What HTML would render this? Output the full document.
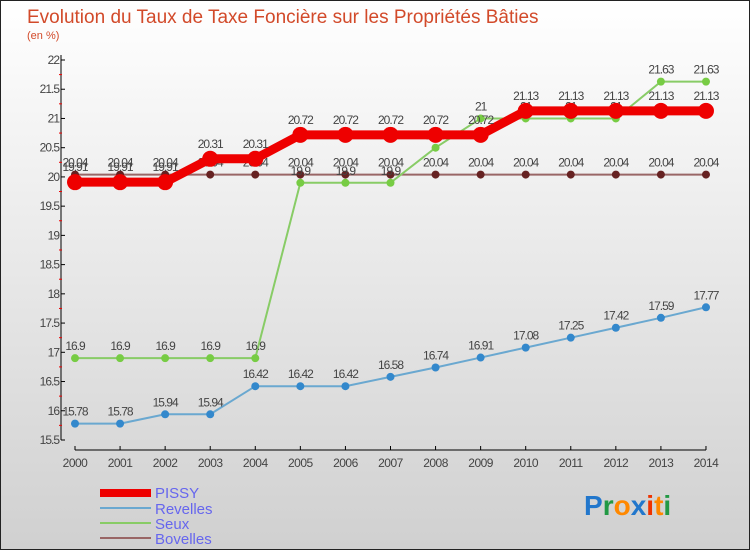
<!DOCTYPE html>
<html><head><meta charset="utf-8"><style>
body{margin:0;width:750px;height:550px;overflow:hidden}
svg{display:block;font-family:"Liberation Sans",sans-serif}
</style></head><body>
<svg id="c" width="750" height="550">
<defs><linearGradient id="bg" x1="0" y1="0" x2="0" y2="1"><stop offset="0" stop-color="#ffffff"/><stop offset="1" stop-color="#d0d0d0"/></linearGradient></defs>
<rect x="0.5" y="0.5" width="749" height="549" fill="url(#bg)" stroke="#222"/>
<text x="27" y="23" font-size="19" fill="#d24a2a">Evolution du Taux de Taxe Foncière sur les Propriétés Bâties</text>
<text x="27" y="39" font-size="11" fill="#d24a2a">(en %)</text>
<g id="axes"></g><g id="series"></g>
<g>
<rect x="100" y="489" width="51" height="8" fill="#ee0000"/>
<text x="155" y="498" font-size="15" fill="#6666ee">PISSY</text>
<rect x="100" y="507" width="51" height="2" fill="#6aa8d0"/>
<text x="155" y="514" font-size="15" fill="#6666ee">Revelles</text>
<rect x="100" y="522" width="51" height="2" fill="#88cc66"/>
<text x="155" y="529" font-size="15" fill="#6666ee">Seux</text>
<rect x="100" y="537" width="51" height="2" fill="#996666"/>
<text x="155" y="544" font-size="15" fill="#6666ee">Bovelles</text>
</g>
<text x="584" y="515" font-size="28" font-weight="bold"><tspan fill="#2277cc">P</tspan><tspan fill="#229944">r</tspan><tspan fill="#ff8800">o</tspan><tspan fill="#2277cc">x</tspan><tspan fill="#ee3300">i</tspan><tspan fill="#ff8800">t</tspan><tspan fill="#229944">i</tspan></text>
</svg>
<script>
const years=[2000,2001,2002,2003,2004,2005,2006,2007,2008,2009,2010,2011,2012,2013,2014];
const pissy=[19.91,19.91,19.91,20.31,20.31,20.72,20.72,20.72,20.72,20.72,21.13,21.13,21.13,21.13,21.13];
const revelles=[15.78,15.78,15.94,15.94,16.42,16.42,16.42,16.58,16.74,16.91,17.08,17.25,17.42,17.59,17.77];
const seux=[16.9,16.9,16.9,16.9,16.9,19.9,19.9,19.9,20.5,21,21,21,21,21.63,21.63];
const bovelles=[20.04,20.04,20.04,20.04,20.04,20.04,20.04,20.04,20.04,20.04,20.04,20.04,20.04,20.04,20.04];
const yTicks=[15.5,16,16.5,17,17.5,18,18.5,19,19.5,20,20.5,21,21.5,22];
const NS="http://www.w3.org/2000/svg";
const X=i=>75+i*45.07, Y=v=>60+(22-v)*58.46;
function mk(t,a,p,txt){const e=document.createElementNS(NS,t);for(const k in a)e.setAttribute(k,a[k]);if(txt!==undefined)e.textContent=txt;p.appendChild(e);return e;}
const ax=document.getElementById('axes'),sg=document.getElementById('series');
let e=mk('line',{x1:61,y1:55,x2:61,y2:440,stroke:'#000'},ax);

e=mk('line',{x1:75,y1:450,x2:706,y2:450,stroke:'#000'},ax);

yTicks.forEach(v=>{
 mk('line',{x1:61,y1:Y(v),x2:65,y2:Y(v),stroke:'#000'},ax);
 mk('line',{x1:59,y1:Y(v)+14.6,x2:62,y2:Y(v)+14.6,stroke:v>15.5?'#e00':'none'},ax);
 e=mk('text',{x:59,y:Y(v)+4,'font-size':12,'text-anchor':'end',fill:'#444','letter-spacing':'-1'},ax,String(v));
 
});
years.forEach((yr,i)=>{
 mk('line',{x1:X(i),y1:446,x2:X(i),y2:450,stroke:'#000'},ax);
 e=mk('text',{x:X(i),y:467,'font-size':12,'text-anchor':'middle',fill:'#444','letter-spacing':'-0.5'},ax,String(yr));
 
});
function draw(vals,name,col,w,r,dot){
 const g=mk('g',{},sg);
 
 mk('polyline',{points:vals.map((v,i)=>X(i)+','+Y(v)).join(' '),fill:'none',stroke:col,'stroke-width':w},g);
 vals.forEach((v,i)=>{
  const c=mk('circle',{cx:X(i),cy:Y(v),r:r,fill:dot},g);
  
  mk('text',{x:X(i),y:Y(v)-8-(r>5?3:0),'font-size':12,'text-anchor':'middle',fill:'#444','letter-spacing':'-1'},g,String(v));
 });
}
draw(bovelles,'bovelles','#996666',2,4,'#662222');
draw(seux,'seux','#88cc66',2,4,'#77cc44');
draw(revelles,'revelles','#6aa8d0',2,4,'#3388cc');
draw(pissy,'pissy','#ee0000',9,8,'#ee0000');
</script>
</body></html>
